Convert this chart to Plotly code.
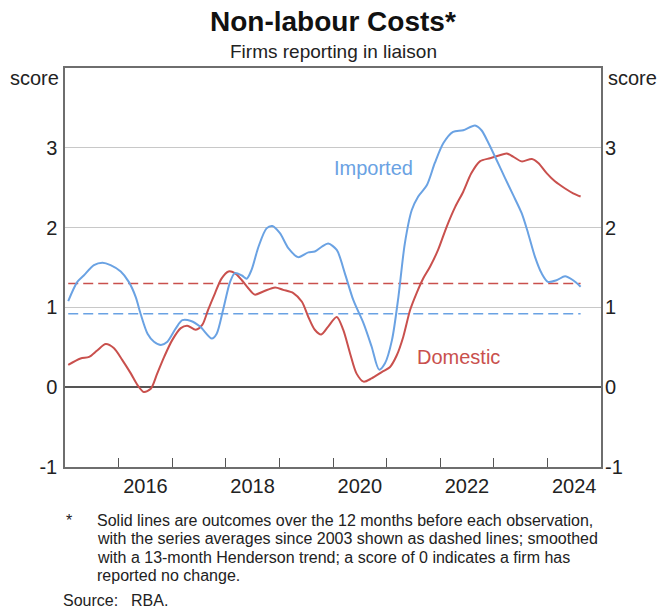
import plotly.graph_objects as go

# Data (decimal years, score)
imp_x = [2015.06, 2015.23, 2015.35, 2015.54, 2015.70, 2015.85, 2016.04, 2016.19, 2016.32, 2016.41,
         2016.54, 2016.66, 2016.79, 2016.91, 2017.07, 2017.19, 2017.35, 2017.52, 2017.74, 2017.83,
         2017.95, 2018.08, 2018.17, 2018.30, 2018.39, 2018.48, 2018.61, 2018.76, 2018.87, 2019.01,
         2019.17, 2019.35, 2019.54, 2019.66, 2019.79, 2019.91, 2020.07, 2020.22, 2020.38, 2020.57,
         2020.72, 2020.86, 2020.97, 2021.10, 2021.22, 2021.34, 2021.47, 2021.59, 2021.75, 2021.90,
         2022.06, 2022.24, 2022.43, 2022.65, 2022.77, 2022.90, 2023.05, 2023.21, 2023.36, 2023.52,
         2023.64, 2023.77, 2023.89, 2024.01, 2024.17, 2024.33, 2024.48, 2024.62]
imp_y = [1.08, 1.32, 1.40, 1.53, 1.56, 1.53, 1.45, 1.32, 1.13, 0.92,
         0.67, 0.57, 0.53, 0.57, 0.74, 0.84, 0.83, 0.76, 0.61, 0.67,
         0.97, 1.32, 1.43, 1.40, 1.36, 1.47, 1.76, 1.99, 2.02, 1.93,
         1.74, 1.63, 1.69, 1.70, 1.76, 1.80, 1.72, 1.43, 1.09, 0.80,
         0.51, 0.22, 0.30, 0.59, 1.13, 1.80, 2.22, 2.39, 2.53, 2.81,
         3.06, 3.20, 3.22, 3.28, 3.22, 3.06, 2.85, 2.62, 2.41, 2.18,
         1.93, 1.63, 1.43, 1.32, 1.34, 1.39, 1.34, 1.26]

dom_x = [2015.06, 2015.29, 2015.45, 2015.60, 2015.76, 2015.91, 2016.07, 2016.23, 2016.35, 2016.47,
         2016.60, 2016.72, 2016.85, 2017.00, 2017.16, 2017.28, 2017.44, 2017.56, 2017.67, 2017.80,
         2017.92, 2018.05, 2018.17, 2018.30, 2018.42, 2018.54, 2018.70, 2018.92, 2019.07, 2019.26,
         2019.42, 2019.54, 2019.66, 2019.78, 2019.91, 2020.07, 2020.19, 2020.32, 2020.44, 2020.57,
         2020.72, 2020.91, 2021.06, 2021.19, 2021.31, 2021.44, 2021.56, 2021.68, 2021.81, 2021.96,
         2022.12, 2022.28, 2022.43, 2022.58, 2022.74, 2022.93, 2023.08, 2023.24, 2023.36, 2023.52,
         2023.71, 2023.83, 2023.99, 2024.14, 2024.33, 2024.48, 2024.62]
dom_y = [0.28, 0.36, 0.38, 0.46, 0.54, 0.49, 0.34, 0.17, 0.03, -0.06,
         -0.02, 0.17, 0.38, 0.59, 0.74, 0.77, 0.72, 0.78, 0.97, 1.18,
         1.36, 1.45, 1.43, 1.34, 1.24, 1.16, 1.20, 1.25, 1.22, 1.18,
         1.07, 0.88, 0.72, 0.66, 0.76, 0.88, 0.72, 0.42, 0.17, 0.07,
         0.11, 0.19, 0.25, 0.40, 0.63, 0.97, 1.18, 1.36, 1.51, 1.72,
         2.01, 2.26, 2.45, 2.68, 2.83, 2.87, 2.90, 2.93, 2.89, 2.83,
         2.86, 2.81, 2.68, 2.58, 2.49, 2.43, 2.39]

imp_avg = 0.92
dom_avg = 1.30

year_labels = ["2016", "2018", "2020", "2022", "2024"]
year_label_pos = [2016.5, 2018.5, 2020.5, 2022.5, 2024.5]
year_ticks = [2016, 2017, 2018, 2019, 2020, 2021, 2022, 2023, 2024]
y_ticks = [-1, 0, 1, 2, 3]
y_tick_text = ["-1", "0", "1", "2", "3"]

BLUE = "#6aa2e3"
RED = "#c9504d"
FONT = "Liberation Sans, Arial, sans-serif"
TXT = "#222222"

fig = go.Figure()

fig.add_trace(go.Scatter(x=[dom_x[0], dom_x[-1]], y=[dom_avg, dom_avg], mode="lines",
                         line=dict(color=RED, width=1.5, dash="10px,5px"), hoverinfo="skip"))
fig.add_trace(go.Scatter(x=[imp_x[0], imp_x[-1]], y=[imp_avg, imp_avg], mode="lines",
                         line=dict(color=BLUE, width=1.5, dash="10px,5px"), hoverinfo="skip"))
fig.add_trace(go.Scatter(x=dom_x, y=dom_y, mode="lines", name="Domestic",
                         line=dict(color=RED, width=2, shape="spline", smoothing=0.8)))
fig.add_trace(go.Scatter(x=imp_x, y=imp_y, mode="lines", name="Imported",
                         line=dict(color=BLUE, width=2, shape="spline", smoothing=0.8)))
fig.add_trace(go.Scatter(x=[2015], y=[0], yaxis="y2", mode="markers",
                         marker=dict(opacity=0), hoverinfo="skip"))

fig.update_layout(
    width=657, height=610,
    margin=dict(l=65, r=56, t=68, b=143, autoexpand=False),
    paper_bgcolor="white", plot_bgcolor="white",
    showlegend=False,
    font=dict(family=FONT, color=TXT, size=20),
    xaxis=dict(range=[2015, 2025], tickmode="array", tickvals=year_label_pos, ticktext=year_labels,
               ticks="", showgrid=False, zeroline=False, showline=True, linecolor="#6e6e6e",
               linewidth=1.5, mirror=True, tickfont=dict(size=20, color=TXT), automargin=False,
               minor=dict(tickmode="array", tickvals=year_ticks, ticks="inside", ticklen=9,
                          tickcolor="#555555", tickwidth=1, showgrid=False)),
    yaxis=dict(range=[-1, 4], tickmode="array", tickvals=y_ticks, ticktext=y_tick_text, ticks="",
               showgrid=True, gridcolor="#c8c8c8", gridwidth=1,
               zeroline=True, zerolinecolor="#555555", zerolinewidth=1.5,
               showline=True, linecolor="#6e6e6e", linewidth=1.5, mirror=True, automargin=False,
               tickfont=dict(size=20, color=TXT), ticklabelstandoff=2),
    yaxis2=dict(range=[-1, 4], overlaying="y", side="right", tickmode="array", tickvals=y_ticks,
                ticktext=y_tick_text, ticks="", showgrid=False, zeroline=False, showline=False,
                automargin=False, tickfont=dict(size=20, color=TXT), ticklabelstandoff=3),
)


def py2paper(py):
    return (467 - py) / 399


def px2paper(px):
    return (px - 65) / 536


fig.add_annotation(text="<b>Non-labour Costs*</b>", x=0.5, y=py2paper(22), xref="paper", yref="paper",
                   showarrow=False, xanchor="center", yanchor="middle", font=dict(size=28, color="#111111"))
fig.add_annotation(text="Firms reporting in liaison", x=0.5, y=py2paper(51), xref="paper", yref="paper",
                   showarrow=False, xanchor="center", yanchor="middle", font=dict(size=19, color=TXT))

fig.add_annotation(text="score", xref="paper", yref="paper", x=px2paper(61), y=py2paper(78), xanchor="right",
                   yanchor="middle", showarrow=False, font=dict(size=20, color=TXT))
fig.add_annotation(text="score", xref="paper", yref="paper", x=px2paper(606), y=py2paper(78), xanchor="left",
                   yanchor="middle", showarrow=False, font=dict(size=20, color=TXT))

fig.add_annotation(text="Imported", x=2020.75, y=2.75, xref="x", yref="y", showarrow=False,
                   font=dict(size=20, color=BLUE))
fig.add_annotation(text="Domestic", x=2022.35, y=0.38, xref="x", yref="y", showarrow=False,
                   font=dict(size=20, color=RED))

notes = [
    "Solid lines are outcomes over the 12 months before each observation,",
    "with the series averages since 2003 shown as dashed lines; smoothed",
    "with a 13-month Henderson trend; a score of 0 indicates a firm has",
    "reported no change.",
]
note_y = [520, 538.5, 557, 575.5]
for t, py in zip(notes, note_y):
    fig.add_annotation(text=t, xref="paper", yref="paper", x=px2paper(95), y=py2paper(py),
                       xanchor="left", yanchor="middle", showarrow=False,
                       font=dict(size=16, color=TXT))
fig.add_annotation(text="*", xref="paper", yref="paper", x=px2paper(64), y=py2paper(520),
                   xanchor="left", yanchor="middle", showarrow=False, font=dict(size=16, color=TXT))
fig.add_annotation(text="Source:", xref="paper", yref="paper", x=px2paper(61), y=py2paper(600),
                   xanchor="left", yanchor="middle", showarrow=False, font=dict(size=16, color=TXT))
fig.add_annotation(text="RBA.", xref="paper", yref="paper", x=px2paper(129), y=py2paper(600),
                   xanchor="left", yanchor="middle", showarrow=False, font=dict(size=16, color=TXT))

fig.write_html("out.html", config={"displayModeBar": False},
               post_script="document.body.style.margin='0';document.body.style.overflow='hidden';")
